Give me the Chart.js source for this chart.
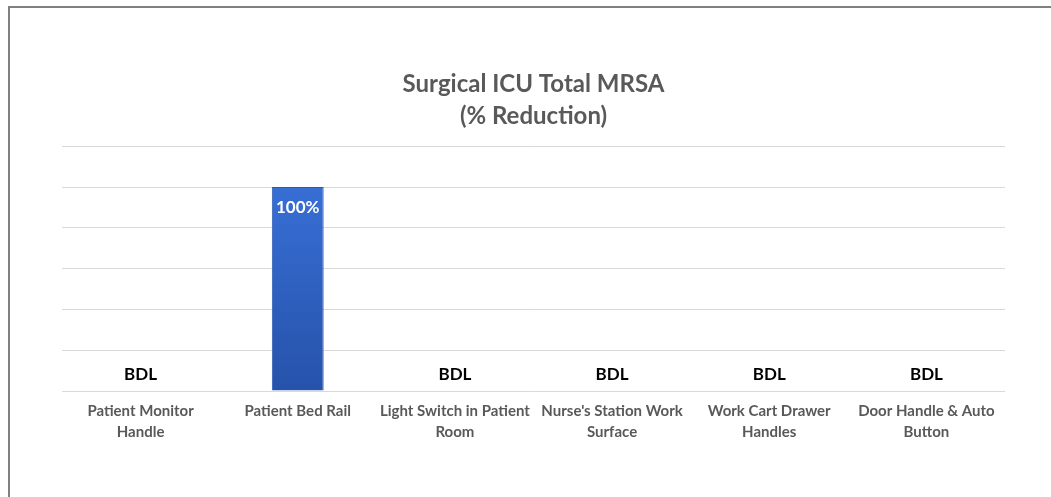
<!DOCTYPE html>
<html>
<head>
<meta charset="utf-8">
<script src="https://cdn.jsdelivr.net/npm/chart.js@4.4.0/dist/chart.umd.min.js"></script>
<style>
  html, body { margin: 0; padding: 0; background: #fff; }
  #wrap { position: relative; width: 1051px; height: 497px; }
  #frame { position: absolute; left: 8px; top: 6px; right: 0; bottom: 0;
           border-left: 2px solid #808080; border-top: 2px solid #808080; }
  canvas { position: absolute; left: 0; top: 0; }
</style>
</head>
<body>
<div id="wrap">
  <div id="frame"></div>
  <canvas id="myChart" width="1051" height="497"></canvas>
</div>
<script>
let labels = [
    ['Patient Monitor', 'Handle'],
    ['Patient Bed Rail'],
    ['Light Switch in Patient', 'Room'],
    ["Nurse's Station Work", 'Surface'],
    ['Work Cart Drawer', 'Handles'],
    ['Door Handle & Auto', 'Button']
];
let values = [0, 100, 0, 0, 0, 0];
let titleLines = ['Surgical ICU Total MRSA', '(% Reduction)'];
let yMax = 120;
let yStep = 20;

let fontName = 'Lato, "Open Sans", sans-serif';

// draws BDL for empty bars, and the value inside the filled one
let barLabels = {
    id: 'barLabels',
    afterDatasetsDraw(chart) {
        let ctx = chart.ctx;
        let meta = chart.getDatasetMeta(0);
        ctx.save();
        ctx.textAlign = 'center';
        ctx.textBaseline = 'middle';
        ctx.font = 'bold 17px ' + fontName;
        meta.data.forEach((bar, i) => {
            let v = values[i];
            if (v === 0) {
                ctx.fillStyle = '#000000';
                ctx.fillText('BDL', bar.x, bar.y - 16);
            } else {
                ctx.fillStyle = '#ffffff';
                ctx.fillText(v + '%', bar.x, bar.y + 20);
            }
        });
        ctx.restore();
    }
};

function barFill(context) {
    let chart = context.chart;
    let area = chart.chartArea;
    if (!area) return '#3366cc';
    let g = chart.ctx.createLinearGradient(0, area.top, 0, area.bottom);
    g.addColorStop(0, '#3b74dd');
    g.addColorStop(1, '#2652aa');
    return g;
}

let config = {
    type: 'bar',
    data: {
        labels: labels,
        datasets: [{
            data: values,
            backgroundColor: barFill,
            borderColor: '#2b58b4',
            borderWidth: 1,
            categoryPercentage: 1,
            barPercentage: 0.33
        }]
    },
    options: {
        responsive: false,
        animation: false,
        layout: { padding: { left: 62, right: 46, top: 0, bottom: 44 } },
        plugins: {
            legend: { display: false },
            tooltip: { enabled: false },
            title: {
                display: true,
                text: titleLines,
                color: '#595959',
                font: { family: fontName, size: 24, weight: 'bold', lineHeight: 1.34 },
                padding: { top: 68, bottom: 14 }
            }
        },
        scales: {
            x: {
                grid: { display: false, drawTicks: false },
                border: { display: false },
                ticks: {
                    color: '#595959',
                    padding: 10,
                    maxRotation: 0,
                    autoSkip: false,
                    font: { family: fontName, size: 15, weight: 'bold', lineHeight: 1.4 }
                }
            },
            y: {
                min: 0,
                max: yMax,
                grid: { color: '#d9d9d9', lineWidth: 1, drawTicks: false },
                border: { display: false },
                ticks: { display: false, stepSize: yStep }
            }
        }
    },
    plugins: [barLabels]
};

let chart = new Chart(document.getElementById('myChart'), config);
</script>
</body>
</html>
